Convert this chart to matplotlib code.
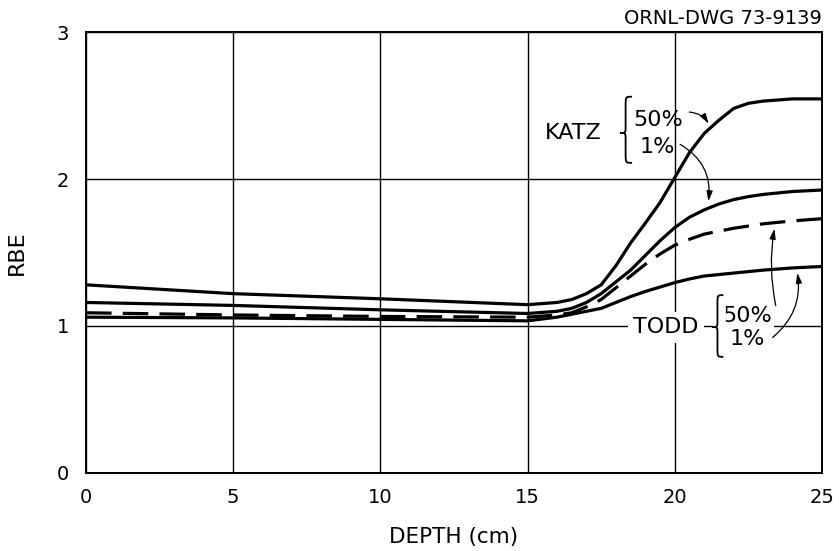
import matplotlib
matplotlib.use("Agg")
import matplotlib.pyplot as plt
from matplotlib.path import Path
from matplotlib.patches import PathPatch

# Depth (cm) sample points
depth = [0, 5, 10, 15, 16, 16.5, 17, 17.5, 18, 18.5, 19, 19.5, 20, 20.5, 21, 21.5, 22, 22.5, 23, 24, 25]

katz_50 = [1.28, 1.22, 1.185, 1.145, 1.16, 1.18, 1.22, 1.28, 1.41, 1.565, 1.70, 1.84, 2.01, 2.18, 2.31, 2.40, 2.48, 2.515, 2.53, 2.545, 2.545]
katz_1 = [1.16, 1.14, 1.11, 1.085, 1.10, 1.12, 1.16, 1.22, 1.30, 1.38, 1.48, 1.58, 1.67, 1.74, 1.79, 1.83, 1.86, 1.88, 1.895, 1.915, 1.925]
todd_50 = [1.09, 1.075, 1.065, 1.06, 1.075, 1.09, 1.13, 1.18, 1.26, 1.34, 1.42, 1.49, 1.55, 1.59, 1.625, 1.645, 1.665, 1.68, 1.695, 1.715, 1.73]
todd_1 = [1.06, 1.055, 1.045, 1.035, 1.06, 1.08, 1.10, 1.12, 1.16, 1.20, 1.235, 1.265, 1.295, 1.32, 1.34, 1.35, 1.36, 1.37, 1.38, 1.395, 1.405]

x_ticks = [0, 5, 10, 15, 20, 25]
y_ticks = [0, 1, 2, 3]

plt.rcParams['font.family'] = ['DejaVu Sans']

fig = plt.figure(figsize=(8.39, 5.51), dpi=100)
ax = fig.add_axes([0.1025, 0.1416, 0.8772, 0.8003])

ax.set_xlim(0, 25)
ax.set_ylim(0, 3)
ax.set_xticks(x_ticks)
ax.set_yticks(y_ticks)
ax.set_xticklabels([str(v) for v in x_ticks])
ax.set_yticklabels([str(v) for v in y_ticks])
ax.tick_params(axis='both', length=0, labelsize=14)
ax.tick_params(axis='x', pad=11)
ax.tick_params(axis='y', pad=12)
ax.grid(True, color='black', linewidth=1.0)
ax.set_axisbelow(True)
for s in ax.spines.values():
    s.set_linewidth(1.4)

lw = 2.3
ax.plot(depth, katz_50, color='black', lw=lw, solid_capstyle='butt')
ax.plot(depth, katz_1, color='black', lw=lw, solid_capstyle='butt')
ax.plot(depth, todd_50, color='black', lw=lw, dashes=(8, 3.5))
ax.plot(depth, todd_1, color='black', lw=lw, solid_capstyle='butt')

ax.set_xlabel('DEPTH (cm)', fontsize=15.5, labelpad=14)
ax.set_ylabel('RBE', fontsize=16, labelpad=22)

fig.text(0.979, 1 - 24 / 551, 'ORNL-DWG 73-9139', ha='right', va='baseline', fontsize=14)


def brace(l, m, r, yb, yt, yc):
    h = yt - yb
    verts = [(r, yt), (m, yt), (m, yt), (m, yt - 0.14 * h),
             (m, yc + 0.1 * h),
             (m, yc), (m, yc), (l, yc),
             (m, yc), (m, yc), (m, yc - 0.1 * h),
             (m, yb + 0.14 * h),
             (m, yb), (m, yb), (r, yb)]
    codes = [Path.MOVETO, Path.CURVE4, Path.CURVE4, Path.CURVE4,
             Path.LINETO,
             Path.CURVE4, Path.CURVE4, Path.CURVE4,
             Path.CURVE4, Path.CURVE4, Path.CURVE4,
             Path.LINETO,
             Path.CURVE4, Path.CURVE4, Path.CURVE4]
    p = Path(verts, codes)
    ax.add_patch(PathPatch(p, facecolor='none', edgecolor='white', lw=12, zorder=4))
    ax.add_patch(PathPatch(p, facecolor='none', edgecolor='black', lw=1.3, zorder=5))


fs = 16
# KATZ annotation
ax.text(16.55, 2.313, 'KATZ', ha='center', va='center', fontsize=fs)
brace(18.15, 18.33, 18.55, 2.11, 2.56, 2.313)
ax.text(19.42, 2.31, '50%\n1%', ha='center', va='center', fontsize=fs,
        linespacing=1.45, multialignment='center')

arrow_kw = dict(arrowstyle='-|>,head_length=0.6,head_width=0.18', color='black', lw=0.9)
ax.annotate('', xy=(21.2, 2.36), xytext=(20.4, 2.456),
            arrowprops=dict(connectionstyle='arc3,rad=-0.3', **arrow_kw))
ax.annotate('', xy=(21.13, 1.83), xytext=(20.1, 2.245),
            arrowprops=dict(connectionstyle='arc3,rad=-0.35', **arrow_kw))

# TODD annotation
ax.text(19.7, 0.99, 'TODD', ha='center', va='center', fontsize=fs,
        bbox=dict(facecolor='white', edgecolor='none', pad=4))
brace(21.28, 21.45, 21.65, 0.79, 1.21, 0.993)
ax.text(22.47, 0.99, '50%\n1%', ha='center', va='center', fontsize=fs,
        linespacing=1.2, multialignment='center',
        bbox=dict(facecolor='white', edgecolor='none', pad=1))

ax.annotate('', xy=(23.4, 1.68), xytext=(23.45, 1.12),
            arrowprops=dict(connectionstyle='arc3,rad=-0.1', **arrow_kw))
ax.annotate('', xy=(24.15, 1.38), xytext=(23.25, 0.91),
            arrowprops=dict(connectionstyle='arc3,rad=0.3', **arrow_kw))

fig.savefig('out.png', dpi=100, facecolor='white')
